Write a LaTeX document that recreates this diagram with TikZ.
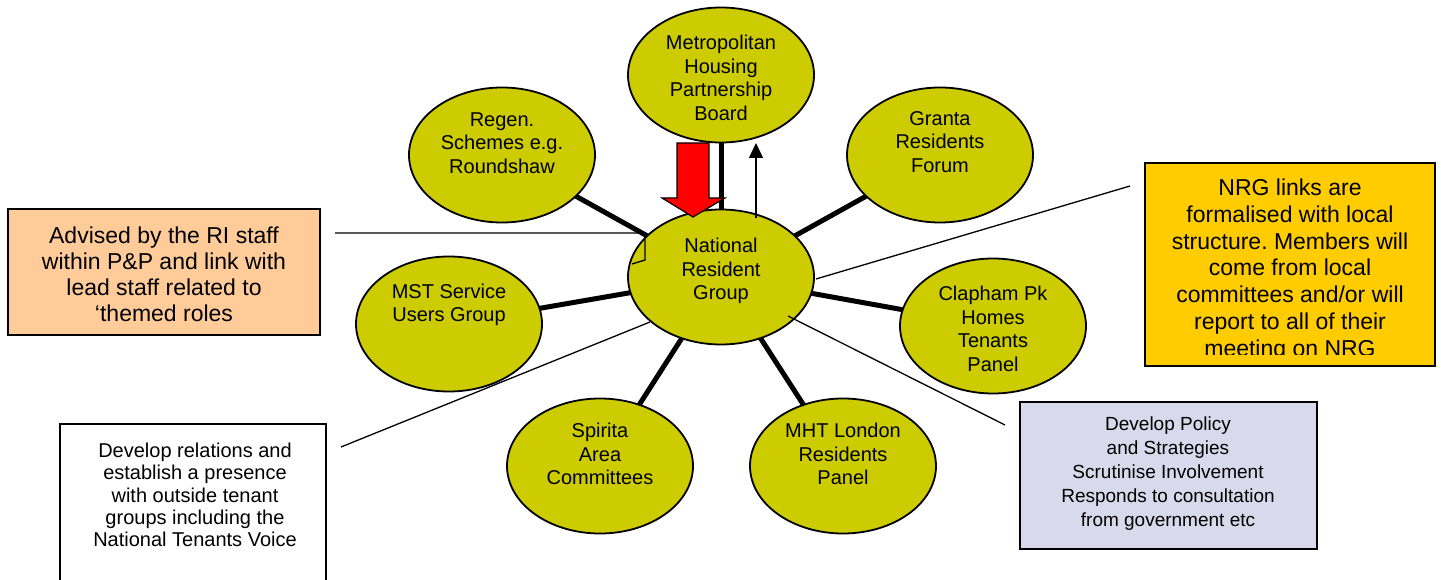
\documentclass[tikz,border=0pt]{standalone}
\usepackage{fontspec}
\setmainfont{Liberation Sans}
\usetikzlibrary{shapes.geometric,arrows.meta}
\pgfdeclarelayer{bg}
\pgfsetlayers{bg,main}
\definecolor{grpfill}{RGB}{204,204,0}
\definecolor{peach}{RGB}{255,204,153}
\definecolor{gold}{RGB}{255,204,0}
\definecolor{lav}{RGB}{217,217,236}
\definecolor{arrowred}{RGB}{255,0,0}
\frenchspacing
\begin{document}
\begin{tikzpicture}[x=1pt,y=-1pt,
  grp/.style={ellipse,draw=black,line width=1.8pt,fill=grpfill,minimum width=186pt,minimum height=135pt,inner sep=0pt},
  gtext/.style={align=center,inner sep=0pt,font=\fontsize{20}{23.5}\selectfont},
  infobox/.style={rectangle,draw=black,line width=1.6pt,inner sep=0pt},
  spoke/.style={line width=5pt},
  callout/.style={line width=1.3pt},
]
\useasboundingbox (0,0) rectangle (1441,580);

% ellipses
\node[grp] (metro)   at (721,75)  {};
\node[grp] (regen)   at (502,155) {};
\node[grp] (granta)  at (940,155) {};
\node[grp] (nrg)     at (721,277) {};
\node[grp] (mst)     at (449,324) {};
\node[grp] (clapham) at (993,326) {};
\node[grp] (spirita) at (600,466) {};
\node[grp] (mht)     at (843,466) {};

% spokes behind
\begin{pgfonlayer}{bg}
\foreach \n in {metro,regen,granta,mst,clapham,spirita,mht}
  \draw[spoke] (nrg.center) -- (\n.center);
\end{pgfonlayer}

% ellipse texts
\node[gtext] (metrot)   at (721,78)  {Metropolitan\\Housing\\Partnership\\Board};
\node[gtext] (regent)   at (502,143) {Regen.\\Schemes e.g.\\Roundshaw};
\node[gtext] (grantat)  at (940,142) {Granta\\Residents\\Forum};
\node[gtext] (nrgt)     at (721,271) {National\\Resident\\Group};
\node[gtext] (mstt)     at (449,305) {MST Service\\Users Group};
\node[gtext] (claphamt) at (993,329) {Clapham Pk\\Homes\\Tenants\\Panel};
\node[gtext] (spiritat) at (600,454) {Spirita\\Area\\Committees};
\node[gtext] (mhtt)     at (843,454) {MHT London\\Residents\\Panel};

% red block arrow (down)
\draw[fill=arrowred,draw=black,line width=1.2pt,line join=miter]
  (677,143) -- (709,143) -- (709,198) -- (725,198) -- (693,217) -- (662,198) -- (677,198) -- cycle;

% thin up arrow NRG -> Metro
\coordinate (upstart) at (756,218);
\coordinate (upend) at (756,143);
\draw[line width=1.3pt,-{Triangle[length=15pt,width=14pt]}] (upstart) -- (upend);

% boxes
\node[infobox,fill=peach,minimum width=312pt,minimum height=126pt] (adv) at (164,272) {};
\node[align=center,inner sep=0pt,font=\fontsize{23}{26}\selectfont] (advt) at (164,274.5)
  {Advised by the RI staff\\within P\&P and link with\\lead staff related to\\‘themed roles};

\node[infobox,fill=gold,minimum width=290pt,minimum height=203pt] (nrgl) at (1290,264.5) {};
\begin{scope}
\clip (1146,164) rectangle (1434,354);
\node[align=center,inner sep=0pt,font=\fontsize{23}{26.7}\selectfont] (nrglt) at (1290,270)
  {NRG links are\\formalised with local\\structure. Members will\\come from local\\committees and/or will\\report to all of their\\meeting on NRG};
\end{scope}

\node[infobox,fill=lav,minimum width=297pt,minimum height=147pt] (pol) at (1168.5,475.5) {};
\node[align=center,inner sep=0pt,font=\fontsize{19}{24}\selectfont] (polt) at (1168,474)
  {Develop Policy\\and Strategies\\Scrutinise Involvement\\Responds to consultation\\from government etc};

\node[infobox,fill=white,minimum width=266pt,minimum height=170pt] (rel) at (193,509) {};
\node[align=center,inner sep=0pt,font=\fontsize{20}{22.4}\selectfont] (relt) at (195,495)
  {Develop relations and\\establish a presence\\with outside tenant\\groups including the\\National Tenants Voice};

% callout lines
\coordinate (advA) at (335,233);
\coordinate (advB) at (645,233);
\coordinate (advC) at (645,260);
\coordinate (advD) at (632,264);
\draw[callout] (advA) -- (advB) -- (advC) -- (advD);

\coordinate (nrglA) at (1130,186);
\coordinate (nrglB) at (816,279);
\draw[callout] (nrglA) -- (nrglB);

\coordinate (polA) at (1005,425);
\coordinate (polB) at (788,316);
\draw[callout] (polA) -- (polB);

\coordinate (relA) at (341,447);
\coordinate (relB) at (650,322);
\draw[callout] (relA) -- (relB);
\end{tikzpicture}
\end{document}
